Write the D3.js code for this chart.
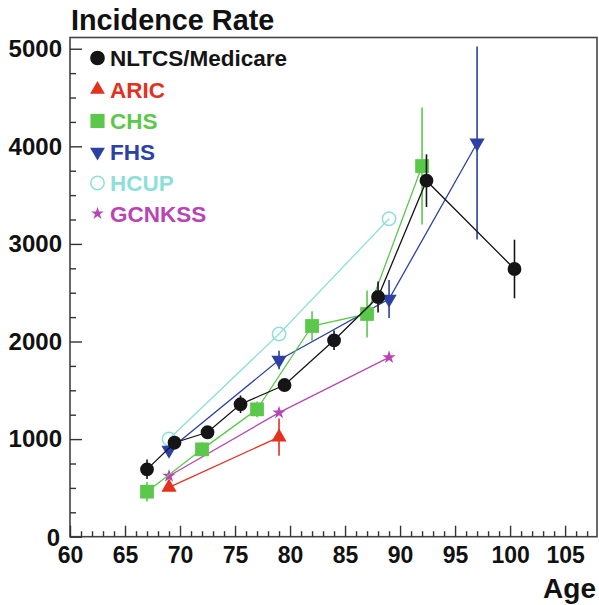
<!DOCTYPE html>
<html>
<head>
<meta charset="utf-8">
<script src="https://cdn.jsdelivr.net/npm/d3@7"></script>
<style>
  body { margin: 0; background: #fff; }
  svg { display: block; font-family: "Liberation Sans", Arial, Helvetica, sans-serif; font-weight: bold; }
</style>
</head>
<body>
<svg id="chart" width="599" height="605"></svg>
<script>
// ---- data ----
const nltcsAge = [67, 69.5, 72.5, 75.5, 79.5, 84, 88, 92.4, 100.4];
const nltcsVal = [690, 963, 1070, 1357, 1554, 2012, 2456, 3648, 2743];
const nltcsErr = [100, 60, 60, 90, 60, 100, 160, 270, 300];

const aricAge = [69, 79];
const aricVal = [506, 1020];
const aricErr = [30, 190];

const chsAge = [67, 72, 77, 82, 87, 92];
const chsVal = [461, 895, 1305, 2159, 2282, 3798];
const chsErr = [100, 70, 80, 150, 240, 600];

const fhsAge = [69, 79, 89, 97];
const fhsVal = [888, 1810, 2435, 4034];
const fhsErr = [50, 95, 195, 990];

const hcupAge = [69, 79, 89];
const hcupVal = [1001, 2077, 3258];

const gcnAge = [69, 79, 89];
const gcnVal = [622, 1271, 1838];

const xMajorTicks = [60, 65, 70, 75, 80, 85, 90, 95, 100, 105];
const yMajorTicks = [0, 1000, 2000, 3000, 4000, 5000];
const legendLabels = ["NLTCS/Medicare", "ARIC", "CHS", "FHS", "HCUP", "GCNKSS"];

// ---- layout ----
const svg = d3.select("#chart");
const L = 70, R = 597, T = 37.5, B = 536.7;
const x = d3.scaleLinear().domain([60, 107.9]).range([L, R]);
const y = d3.scaleLinear().domain([0, 5115]).range([B, T]);

const cBlack = "#151515", cRed = "#e2311f", cGreen = "#5cc84b", cBlue = "#2c41a3",
      cCyan = "#8fdfd9", cMag = "#b845b3";

// frame
svg.append("rect").attr("x", L).attr("y", T).attr("width", R - L).attr("height", B - T)
  .attr("fill", "none").attr("stroke", "#444").attr("stroke-width", 1.6);

// x axis
const xMinor = d3.range(60, 108, 1).filter(v => v % 5 !== 0);
const gx = svg.append("g").attr("class", "xaxis").attr("transform", `translate(0,${B})`);
gx.call(d3.axisBottom(x).tickValues(xMajorTicks).tickSizeInner(-11).tickSizeOuter(0).tickPadding(10).tickFormat(d3.format("d")));
const gxm = svg.append("g").attr("transform", `translate(0,${B})`);
gxm.call(d3.axisBottom(x).tickValues(xMinor).tickSizeInner(-5.5).tickSizeOuter(0).tickFormat(""));
// y axis
const yMinor = d3.range(0, 5100, 250).filter(v => v % 1000 !== 0);
const gy = svg.append("g").attr("class", "yaxis").attr("transform", `translate(${L},0)`);
gy.call(d3.axisLeft(y).tickValues(yMajorTicks).tickSizeInner(-12).tickSizeOuter(0).tickPadding(8).tickFormat(d3.format("d")));
const gym = svg.append("g").attr("transform", `translate(${L},0)`);
gym.call(d3.axisLeft(y).tickValues(yMinor).tickSizeInner(-6).tickSizeOuter(0).tickFormat(""));

svg.selectAll(".domain").remove();
svg.selectAll(".tick line").attr("stroke", "#333").attr("stroke-width", 1.4);
svg.selectAll(".tick text").attr("font-weight", "bold")
  .attr("font-family", "Liberation Sans, Arial, sans-serif").attr("fill", "#111");
gx.selectAll(".tick text").attr("font-size", 23);
gy.selectAll(".tick text").attr("font-size", 24);
gy.selectAll(".tick text").filter(d => d === 0).attr("dy", "0.36em").attr("x", -10);

// titles
svg.append("text").attr("x", 71).attr("y", 30).attr("font-size", 28.8).attr("fill", "#111")
  .text("Incidence Rate");
svg.append("text").attr("x", 596).attr("y", 598).attr("text-anchor", "end").attr("font-size", 28).attr("fill", "#111")
  .text("Age");

// ---- series ----
const plot = svg.append("g");
const line = d3.line().x(d => x(d[0])).y(d => y(d[1]));

function series(ages, vals, errs, color, symbol, size, opts = {}) {
  const pts = ages.map((a, i) => [a, vals[i], errs ? errs[i] : 0]);
  const g = plot.append("g");
  g.append("path").attr("d", line(pts)).attr("fill", "none").attr("stroke", color).attr("stroke-width", 1.3);
  if (errs) {
    g.selectAll("line.err").data(pts).join("line")
      .attr("x1", d => x(d[0])).attr("x2", d => x(d[0]))
      .attr("y1", d => y(d[1] - d[2])).attr("y2", d => y(d[1] + d[2]))
      .attr("stroke", color).attr("stroke-width", 1.6);
  }
  const sym = d3.symbol().type(symbol).size(size);
  g.selectAll("path.m").data(pts).join("path")
    .attr("d", sym)
    .attr("transform", d => `translate(${x(d[0])},${y(d[1])})${opts.flip ? " rotate(180)" : ""}`)
    .attr("fill", opts.open ? "none" : color)
    .attr("stroke", opts.open ? color : "none").attr("stroke-width", 1.5);
}

series(hcupAge, hcupVal, null, cCyan, d3.symbolCircle, 140, { open: true });
series(gcnAge, gcnVal, null, cMag, d3.symbolStar, 55);
series(aricAge, aricVal, aricErr, cRed, d3.symbolTriangle, 100);
series(fhsAge, fhsVal, fhsErr, cBlue, d3.symbolTriangle, 100, { flip: true });
series(chsAge, chsVal, chsErr, cGreen, d3.symbolSquare, 190);
series(nltcsAge, nltcsVal, nltcsErr, cBlack, d3.symbolCircle, 150);

// ---- legend ----
const legendColors = [cBlack, cRed, cGreen, cBlue, cCyan, cMag];
const legendSyms = [
  { t: d3.symbolCircle, s: 170 }, { t: d3.symbolTriangle, s: 95 }, { t: d3.symbolSquare, s: 200 },
  { t: d3.symbolTriangle, s: 95, flip: true }, { t: d3.symbolCircle, s: 140, open: true }, { t: d3.symbolStar, s: 50 }
];
const legendY = [58, 89.5, 121, 152, 183, 213.5];
const lg = svg.append("g");
legendLabels.forEach((lab, i) => {
  const sp = legendSyms[i];
  lg.append("path").attr("d", d3.symbol().type(sp.t).size(sp.s))
    .attr("transform", `translate(97.5,${legendY[i]})${sp.flip ? " rotate(180)" : ""}`)
    .attr("fill", sp.open ? "none" : legendColors[i])
    .attr("stroke", sp.open ? legendColors[i] : "none").attr("stroke-width", 1.5);
  lg.append("text").attr("x", 110).attr("y", legendY[i]).attr("dy", "0.36em")
    .attr("font-size", 22.5).attr("fill", legendColors[i]).text(lab);
});
</script>
</body>
</html>
